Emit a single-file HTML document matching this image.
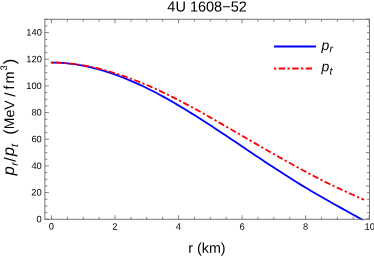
<!DOCTYPE html>
<html><head><meta charset="utf-8"><style>
html,body{margin:0;padding:0;background:#fff;}
body{width:374px;height:257px;overflow:hidden;}
svg{display:block;will-change:transform;}
text{font-family:"Liberation Sans",sans-serif;fill:#000;}
.tk text{font-size:9.33px;fill:#000;}
</style></head><body>
<svg width="374" height="257" viewBox="0 0 374 257">
<rect width="374" height="257" fill="#fff"/>
<defs><clipPath id="c"><rect x="44.9" y="19.25" width="324.55" height="201.00"/></clipPath></defs>
<g clip-path="url(#c)"><path d="M51.45,62.55 L54.95,62.59 L58.46,62.71 L61.96,62.91 L65.46,63.18 L68.97,63.53 L72.47,63.96 L75.98,64.46 L79.48,65.03 L82.98,65.67 L86.49,66.39 L89.99,67.17 L93.49,68.02 L97.00,68.94 L100.50,69.92 L104.00,70.96 L107.51,72.06 L111.01,73.22 L114.52,74.43 L118.02,75.70 L121.52,77.02 L125.03,78.40 L128.53,79.82 L132.03,81.30 L135.54,82.83 L139.04,84.42 L142.54,86.05 L146.05,87.73 L149.55,89.46 L153.06,91.24 L156.56,93.06 L160.06,94.93 L163.57,96.84 L167.07,98.79 L170.57,100.77 L174.08,102.79 L177.58,104.85 L181.08,106.93 L184.59,109.05 L188.09,111.20 L191.59,113.37 L195.10,115.56 L198.60,117.78 L202.11,120.01 L205.61,122.27 L209.11,124.54 L212.62,126.83 L216.12,129.13 L219.62,131.44 L223.13,133.76 L226.63,136.09 L230.13,138.43 L233.64,140.77 L237.14,143.12 L240.65,145.48 L244.15,147.83 L247.65,150.19 L251.16,152.54 L254.66,154.89 L258.16,157.24 L261.67,159.57 L265.17,161.90 L268.67,164.22 L272.18,166.53 L275.68,168.82 L279.19,171.10 L282.69,173.36 L286.19,175.60 L289.70,177.82 L293.20,180.02 L296.70,182.20 L300.21,184.36 L303.71,186.49 L307.21,188.59 L310.72,190.67 L314.22,192.73 L317.73,194.76 L321.23,196.78 L324.73,198.77 L328.24,200.76 L331.74,202.73 L335.24,204.69 L338.75,206.65 L342.25,208.60 L345.75,210.55 L349.26,212.49 L352.76,214.43 L356.27,216.36 L359.77,218.30 L363.27,220.23" fill="none" stroke="#0000ff" stroke-width="1.8" stroke-linejoin="round"/>
<path d="M51.70,62.54 L55.20,62.58 L58.71,62.70 L62.21,62.88 L65.71,63.14 L69.21,63.46 L72.71,63.85 L76.21,64.30 L79.71,64.81 L83.21,65.38 L86.71,66.01 L90.21,66.70 L93.71,67.45 L97.21,68.25 L100.71,69.11 L104.22,70.02 L107.72,70.98 L111.22,72.00 L114.72,73.07 L118.22,74.18 L121.72,75.35 L125.22,76.56 L128.72,77.82 L132.22,79.12 L135.72,80.47 L139.22,81.86 L142.72,83.30 L146.22,84.77 L149.73,86.29 L153.23,87.84 L156.73,89.43 L160.23,91.06 L163.73,92.72 L167.23,94.41 L170.73,96.14 L174.23,97.90 L177.73,99.69 L181.23,101.51 L184.73,103.35 L188.23,105.22 L191.73,107.11 L195.24,109.03 L198.74,110.96 L202.24,112.91 L205.74,114.87 L209.24,116.85 L212.74,118.84 L216.24,120.84 L219.74,122.85 L223.24,124.87 L226.74,126.89 L230.24,128.92 L233.74,130.95 L237.24,132.98 L240.75,135.01 L244.25,137.05 L247.75,139.08 L251.25,141.11 L254.75,143.13 L258.25,145.15 L261.75,147.17 L265.25,149.18 L268.75,151.19 L272.25,153.19 L275.75,155.18 L279.25,157.16 L282.75,159.14 L286.26,161.10 L289.76,163.05 L293.26,164.99 L296.76,166.91 L300.26,168.82 L303.76,170.71 L307.26,172.59 L310.76,174.44 L314.26,176.28 L317.76,178.09 L321.26,179.88 L324.76,181.65 L328.26,183.38 L331.77,185.09 L335.27,186.78 L338.77,188.43 L342.27,190.05 L345.77,191.64 L349.27,193.22 L352.77,194.77 L356.27,196.32 L359.77,197.85 L363.27,199.38" fill="none" stroke="#ff0000" stroke-width="1.8" stroke-linecap="square" stroke-dasharray="0.5 4.25 4.5 4.25" stroke-linejoin="round"/></g>
<rect x="44.9" y="19.25" width="324.55" height="200.00" fill="none" stroke="#666" stroke-width="0.9"/>
<path d="M51.45,219.25L51.45,215.25M51.45,19.25L51.45,23.25M67.34,219.25L67.34,216.75M67.34,19.25L67.34,21.75M83.22,219.25L83.22,216.75M83.22,19.25L83.22,21.75M99.11,219.25L99.11,216.75M99.11,19.25L99.11,21.75M114.99,219.25L114.99,215.25M114.99,19.25L114.99,23.25M130.88,219.25L130.88,216.75M130.88,19.25L130.88,21.75M146.76,219.25L146.76,216.75M146.76,19.25L146.76,21.75M162.64,219.25L162.64,216.75M162.64,19.25L162.64,21.75M178.53,219.25L178.53,215.25M178.53,19.25L178.53,23.25M194.42,219.25L194.42,216.75M194.42,19.25L194.42,21.75M210.30,219.25L210.30,216.75M210.30,19.25L210.30,21.75M226.19,219.25L226.19,216.75M226.19,19.25L226.19,21.75M242.07,219.25L242.07,215.25M242.07,19.25L242.07,23.25M257.95,219.25L257.95,216.75M257.95,19.25L257.95,21.75M273.84,219.25L273.84,216.75M273.84,19.25L273.84,21.75M289.73,219.25L289.73,216.75M289.73,19.25L289.73,21.75M305.61,219.25L305.61,215.25M305.61,19.25L305.61,23.25M321.50,219.25L321.50,216.75M321.50,19.25L321.50,21.75M337.38,219.25L337.38,216.75M337.38,19.25L337.38,21.75M353.26,219.25L353.26,216.75M353.26,19.25L353.26,21.75M369.15,219.25L369.15,215.25M369.15,19.25L369.15,23.25M44.90,219.25L48.90,219.25M369.45,219.25L365.85,219.25M44.90,212.58L47.40,212.58M369.45,212.58L367.05,212.58M44.90,205.92L47.40,205.92M369.45,205.92L367.05,205.92M44.90,199.25L47.40,199.25M369.45,199.25L367.05,199.25M44.90,192.58L48.90,192.58M369.45,192.58L367.05,192.58M44.90,185.92L47.40,185.92M369.45,185.92L365.85,185.92M44.90,179.25L47.40,179.25M369.45,179.25L367.05,179.25M44.90,172.58L47.40,172.58M369.45,172.58L367.05,172.58M44.90,165.92L48.90,165.92M369.45,165.92L367.05,165.92M44.90,159.25L47.40,159.25M369.45,159.25L367.05,159.25M44.90,152.59L47.40,152.59M369.45,152.59L365.85,152.59M44.90,145.92L47.40,145.92M369.45,145.92L367.05,145.92M44.90,139.25L48.90,139.25M369.45,139.25L367.05,139.25M44.90,132.59L47.40,132.59M369.45,132.59L367.05,132.59M44.90,125.92L47.40,125.92M369.45,125.92L367.05,125.92M44.90,119.25L47.40,119.25M369.45,119.25L365.85,119.25M44.90,112.59L48.90,112.59M369.45,112.59L367.05,112.59M44.90,105.92L47.40,105.92M369.45,105.92L367.05,105.92M44.90,99.25L47.40,99.25M369.45,99.25L367.05,99.25M44.90,92.59L47.40,92.59M369.45,92.59L367.05,92.59M44.90,85.92L48.90,85.92M369.45,85.92L365.85,85.92M44.90,79.25L47.40,79.25M369.45,79.25L367.05,79.25M44.90,72.59L47.40,72.59M369.45,72.59L367.05,72.59M44.90,65.92L47.40,65.92M369.45,65.92L367.05,65.92M44.90,59.25L48.90,59.25M369.45,59.25L367.05,59.25M44.90,52.59L47.40,52.59M369.45,52.59L365.85,52.59M44.90,45.92L47.40,45.92M369.45,45.92L367.05,45.92M44.90,39.25L47.40,39.25M369.45,39.25L367.05,39.25M44.90,32.59L48.90,32.59M369.45,32.59L367.05,32.59M44.90,25.92L47.40,25.92M369.45,25.92L367.05,25.92M44.90,19.26L47.40,19.26M369.45,19.26L365.85,19.26" stroke="#666" stroke-width="0.8" fill="none"/>
<g class="tk" transform="rotate(0.03 200 128)"><text x="51.45" y="229.7" text-anchor="middle">0</text><text x="114.99" y="229.7" text-anchor="middle">2</text><text x="178.53" y="229.7" text-anchor="middle">4</text><text x="242.07" y="229.7" text-anchor="middle">6</text><text x="305.61" y="229.7" text-anchor="middle">8</text><text x="369.75" y="229.7" text-anchor="middle">10</text><text x="41.8" y="222.30" text-anchor="end">0</text><text x="41.8" y="195.63" text-anchor="end">20</text><text x="41.8" y="168.97" text-anchor="end">40</text><text x="41.8" y="142.30" text-anchor="end">60</text><text x="41.8" y="115.64" text-anchor="end">80</text><text x="41.8" y="88.97" text-anchor="end">100</text><text x="41.8" y="62.30" text-anchor="end">120</text><text x="41.8" y="35.64" text-anchor="end">140</text></g>
<g transform="rotate(0.03 200 128)"><text x="207" y="11.5" text-anchor="middle" font-size="14.5">4U 1608−52</text>
<text x="207" y="252.7" text-anchor="middle" font-size="14.3">r (km)</text></g>
<g transform="rotate(-89.97)"><text x="-175.20" y="14.0" font-size="16.2" font-style="italic">p</text><text x="-165.70" y="18.2" font-size="10.5" font-style="italic">r</text><text x="-161.80" y="15.6" font-size="16">/</text><text x="-156.00" y="14.0" font-size="16.2" font-style="italic">p</text><text x="-146.90" y="18.0" font-size="10.5" font-style="italic">t</text><text x="-134.70" y="15.0" font-size="16.3">(</text><text x="-129.20" y="14.2" font-size="14">MeV</text><text x="-96.70" y="15.4" font-size="15">/</text><text x="-89.60" y="14.0" font-size="14.6">f</text><text x="-83.60" y="14.0" font-size="14.5">m</text><text x="-70.60" y="7.0" font-size="9.5">3</text><text x="-64.20" y="15.0" font-size="16.3">)</text></g>
<path d="M274,46.5L316,46.5" stroke="#0000ff" stroke-width="1.8"/>
<path d="M274.9,68.5L312.9,68.5" stroke="#ff0000" stroke-width="1.8" stroke-linecap="square" stroke-dasharray="0.5 4.25 4.5 4.25"/>
<g transform="rotate(0.03 200 128)"><text x="321.4" y="49.9" font-size="14"><tspan font-style="italic">p</tspan><tspan font-style="italic" font-size="10.5" dy="2.3" dx="0.3">r</tspan></text>
<text x="321.4" y="71.1" font-size="14"><tspan font-style="italic">p</tspan><tspan font-style="italic" font-size="10.5" dy="3.3" dx="0.3">t</tspan></text></g>
</svg>
</body></html>
